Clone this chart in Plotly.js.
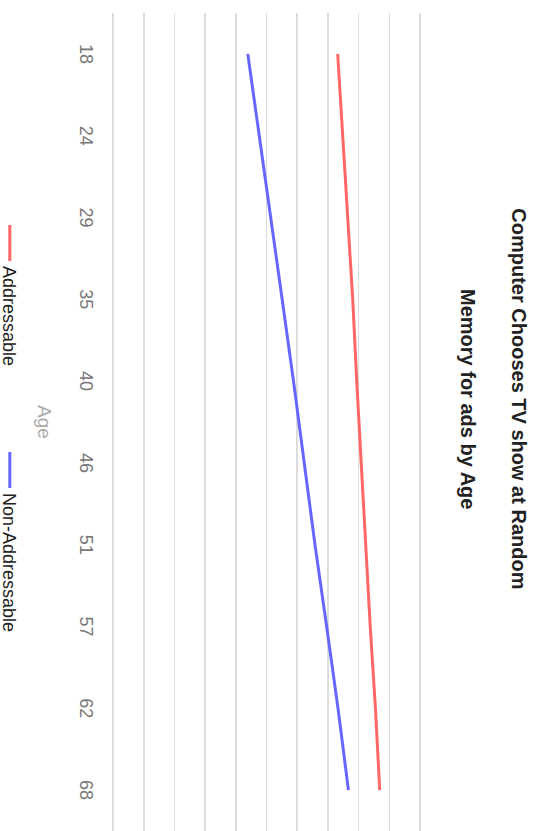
<!DOCTYPE html>
<html>
<head>
<meta charset="utf-8">
<script src="https://cdn.plot.ly/plotly-3.0.1.min.js"></script>
<style>
  html, body { margin: 0; padding: 0; background: #fff; overflow: hidden; }
  body { width: 536px; height: 831px; position: relative; }
  /* the chart is laid out landscape and turned a quarter turn clockwise */
  #chart {
    position: absolute; left: 0; top: 0;
    width: 831px; height: 536px;
    transform-origin: 0 0;
    transform: translate(536px, 0) rotate(90deg);
  }
</style>
</head>
<body>
<div id="chart"></div>
<script>
// Ages on the horizontal axis
const ages = ['18', '24', '29', '35', '40', '46', '51', '57', '62', '68'];
// Memory for ads (%) by age
const addressable    = [73.2, 74.8, 76.4, 78.1, 79.4, 80.9, 82.2, 83.8, 85.5, 86.9];
const nonAddressable = [43.9, 47.7, 51.5, 55.1, 58.8, 62.3, 65.8, 69.6, 73.3, 76.7];
const seriesNames = ['Addressable', 'Non-Addressable'];
const titleText = 'Computer Chooses TV show at Random';
const subtitleText = 'Memory for ads by Age';
const axisTitle = 'Age';

const FONT = 'Liberation Sans, Arial, Helvetica, sans-serif';
const W = 831, H = 536;
const M = { l: 13, r: 0, t: 113, b: 110, pad: 0, autoexpand: false };
const plotW = W - M.l - M.r, plotH = H - M.t - M.b;

const traces = [
  {
    x: ages, y: addressable, name: seriesNames[0],
    type: 'scatter', mode: 'lines',
    line: { color: 'rgb(255,102,102)', width: 3 }
  },
  {
    x: ages, y: nonAddressable, name: seriesNames[1],
    type: 'scatter', mode: 'lines',
    line: { color: 'rgb(102,102,255)', width: 3 }
  }
];

const layout = {
  width: W, height: H,
  paper_bgcolor: '#fff', plot_bgcolor: '#fff',
  font: { family: FONT, size: 18, color: '#222' },
  margin: M,
  title: {
    text: titleText,
    font: { family: FONT, size: 20, color: '#222', weight: 'bold' },
    x: 0.48, xref: 'container', xanchor: 'center',
    y: 1 - 17 / H, yref: 'container', yanchor: 'middle'
  },
  annotations: [
    {
      text: subtitleText,
      font: { family: FONT, size: 20, color: '#222', weight: 'bold' },
      // subtitle centred under the title, 68px from the top edge
      x: (0.48 * W - M.l) / plotW, xref: 'paper', xanchor: 'center',
      y: (H - M.b - 68) / plotH, yref: 'paper', yanchor: 'middle',
      showarrow: false
    },
    {
      // horizontal axis title, centred on the plot below the tick labels
      text: axisTitle,
      font: { family: FONT, size: 19, color: '#aaa' },
      x: 0.5, xref: 'paper', xanchor: 'center',
      y: -(491 - (H - M.b)) / plotH, yref: 'paper', yanchor: 'middle',
      showarrow: false
    }
  ],
  xaxis: {
    type: 'category',
    range: [-0.5, 9.5],
    showgrid: false, zeroline: false, showline: false,
    ticks: '',
    ticklabelstandoff: 11,
    tickfont: { family: FONT, size: 18, color: '#777' },
    automargin: false,
    fixedrange: true
  },
  yaxis: {
    // a little headroom so the 0 and 100 grid lines are drawn
    range: [-1, 101], dtick: 10,
    showticklabels: false, ticks: '',
    showgrid: true, gridcolor: '#dcdcdc', gridwidth: 1.5,
    zeroline: false, showline: false,
    automargin: false,
    fixedrange: true
  },
  showlegend: true,
  legend: {
    orientation: 'h',
    x: (220 - M.l) / plotW, xanchor: 'left', xref: 'paper',
    y: -(H + 9 - (H - M.b)) / plotH, yanchor: 'bottom', yref: 'paper',
    font: { family: FONT, size: 18, color: '#222' },
    itemwidth: 36,
    entrywidth: 176, entrywidthmode: 'pixels',
    bgcolor: 'rgba(0,0,0,0)'
  },
  hovermode: false
};

Plotly.newPlot('chart', traces, layout, { displayModeBar: false, staticPlot: true });
</script>
</body>
</html>
